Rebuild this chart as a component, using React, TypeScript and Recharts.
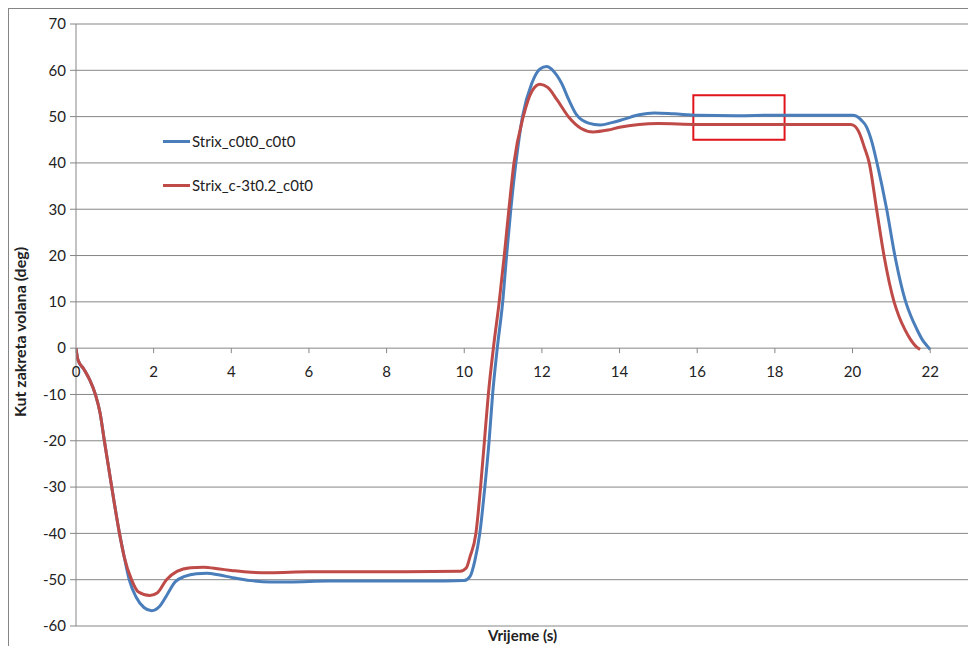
import { LineChart, Line, XAxis, YAxis, CartesianGrid, ReferenceArea, Label } from 'recharts'

// Strix_c0t0_c0t0 (blue)
const blueTime = [0, 0.05, 0.2, 0.35, 0.5, 0.62, 0.73, 0.92, 1.12, 1.24, 1.37, 1.55, 1.75, 1.95, 2.15, 2.35, 2.55, 2.8, 3.1, 3.37, 3.7, 4.0, 4.5, 5, 5.5, 6.5, 8, 9.5, 10.0, 10.15, 10.27, 10.4, 10.53, 10.64, 10.73, 10.85, 10.99, 11.09, 11.2, 11.33, 11.5, 11.74, 11.95, 12.12, 12.3, 12.5, 12.7, 12.9, 13.2, 13.5, 13.8, 14.1, 14.5, 14.9, 15.4, 16, 17, 18, 19, 20, 20.1, 20.22, 20.36, 20.5, 20.63, 20.88, 21.09, 21.37, 21.5, 21.65, 21.8, 21.92, 22.0]
const blueAngle = [0, -2.5, -4.5, -6.8, -10, -14, -20, -30, -40, -45, -50, -53.8, -56, -56.7, -55.8, -53.2, -50.5, -49.3, -48.7, -48.6, -49, -49.5, -50.2, -50.5, -50.5, -50.3, -50.3, -50.3, -50.2, -49.3, -46, -40, -30, -20, -10, 0, 10, 20, 30, 40, 50, 57.2, 60.3, 60.8, 59.8, 57.3, 53.5, 50.3, 48.6, 48.2, 48.7, 49.4, 50.4, 50.8, 50.6, 50.3, 50.2, 50.3, 50.3, 50.3, 50.1, 49.3, 47.8, 44.5, 40, 30, 20, 10, 7, 4.2, 1.8, 0.5, -0.3]

// Strix_c-3t0.2_c0t0 (red)
const redTime = [0, 0.05, 0.2, 0.35, 0.5, 0.62, 0.73, 0.92, 1.12, 1.24, 1.43, 1.6, 1.9, 2.1, 2.33, 2.6, 2.95, 3.28, 3.7, 4.0, 4.5, 5, 6, 8, 9.9, 10.05, 10.15, 10.3, 10.42, 10.52, 10.62, 10.75, 10.9, 11.03, 11.15, 11.28, 11.52, 11.75, 11.95, 12.15, 12.4, 12.7, 13.0, 13.32, 13.7, 14.0, 14.5, 15, 16, 18, 19.95, 20.05, 20.18, 20.3, 20.43, 20.62, 20.81, 21.07, 21.2, 21.35, 21.5, 21.62, 21.74]
const redAngle = [0, -2.5, -4.5, -6.8, -10, -14, -20, -30, -40, -45, -50, -52.6, -53.4, -52.8, -50, -48.2, -47.4, -47.3, -47.7, -48.0, -48.4, -48.5, -48.3, -48.3, -48.2, -47.5, -45, -40, -30, -20, -10, 0, 10, 20, 30, 40, 50, 55.6, 57, 56.3, 53.5, 49.8, 47.5, 46.7, 47.1, 47.7, 48.3, 48.5, 48.3, 48.3, 48.3, 48, 46.4, 43.5, 40, 30, 20, 10, 6.8, 4, 1.8, 0.5, -0.3]

const seriesNames = ['Strix_c0t0_c0t0', 'Strix_c-3t0.2_c0t0']
const seriesColors = ['#4a7ebb', '#be4b48']

const xTicks = [0, 2, 4, 6, 8, 10, 12, 14, 16, 18, 20, 22]
const yTicks = [-60, -50, -40, -30, -20, -10, 0, 10, 20, 30, 40, 50, 60, 70]

const blueData = blueTime.map((t, i) => ({ t, v: blueAngle[i] }))
const redData = redTime.map((t, i) => ({ t, v: redAngle[i] }))

const FONT = 'Lato, "Open Sans", sans-serif'
const AXIS = '#868686'

const W = 967
const H = 637
const M = { top: 15, right: 7, left: 0, bottom: 0 }
const Y_W = 67
const X_H = 20
const plotH = H - M.top - M.bottom - X_H
// the category axis crosses at value 0, like the Excel original
const zeroY = M.top + (plotH * 70) / 130

const XTick = ({ x, payload }: any) => (
  <g>
    <line x1={x} x2={x} y1={zeroY} y2={zeroY + 5} stroke={AXIS} />
    <text x={x} y={zeroY + 29} textAnchor="middle" fontSize={15} fontFamily={FONT} fill="#222">
      {payload.value}
    </text>
  </g>
)

const YTitle = () => (
  <text
    x={10}
    y={323}
    transform="rotate(-90, 10, 323)"
    textAnchor="middle"
    dominantBaseline="central"
    fontFamily={FONT}
    fontSize={16}
    fontWeight={700}
    fill="#222"
  >
    Kut zakreta volana (deg)
  </text>
)

export default function App() {
  return (
    <div style={{ width: 990, height: 660, border: `1px solid ${AXIS}`, position: 'relative' }}>
      <LineChart width={W} height={H} margin={M}>
        <CartesianGrid vertical={false} stroke={AXIS} strokeWidth={1} />
        <XAxis
          type="number"
          dataKey="t"
          domain={[0, 23]}
          ticks={xTicks}
          allowDataOverflow
          height={X_H}
          axisLine={false}
          tickLine={false}
          tick={<XTick />}
        >
          <Label
            value="Vrijeme (s)"
            position="insideBottom"
            offset={5}
            style={{ fontFamily: FONT, fontSize: 15, fontWeight: 700, fill: '#222' }}
          />
        </XAxis>
        <YAxis
          type="number"
          domain={[-60, 70]}
          ticks={yTicks}
          width={Y_W}
          stroke={AXIS}
          tickSize={6}
          tickMargin={4}
          tick={{ fontSize: 15, fontFamily: FONT, fill: '#222' }}
        >
          <Label content={<YTitle />} />
        </YAxis>
        <Line
          data={blueData}
          dataKey="v"
          name={seriesNames[0]}
          type="monotone"
          stroke={seriesColors[0]}
          strokeWidth={3}
          dot={false}
          isAnimationActive={false}
        />
        <Line
          data={redData}
          dataKey="v"
          name={seriesNames[1]}
          type="monotone"
          stroke={seriesColors[1]}
          strokeWidth={3}
          dot={false}
          isAnimationActive={false}
        />
        <ReferenceArea x1={15.9} x2={18.25} y1={45} y2={54.6} fill="none" stroke="#e0151b" strokeWidth={2} ifOverflow="visible" />
      </LineChart>
      <div style={{ position: 'absolute', left: 154, top: 110, fontFamily: FONT, fontSize: 15, color: '#222' }}>
        {seriesNames.map((name, i) => (
          <div key={name} style={{ display: 'flex', alignItems: 'center', height: 44 }}>
            <span style={{ display: 'inline-block', width: 27, height: 3, background: seriesColors[i], marginRight: 2 }} />
            {name}
          </div>
        ))}
      </div>
    </div>
  )
}
